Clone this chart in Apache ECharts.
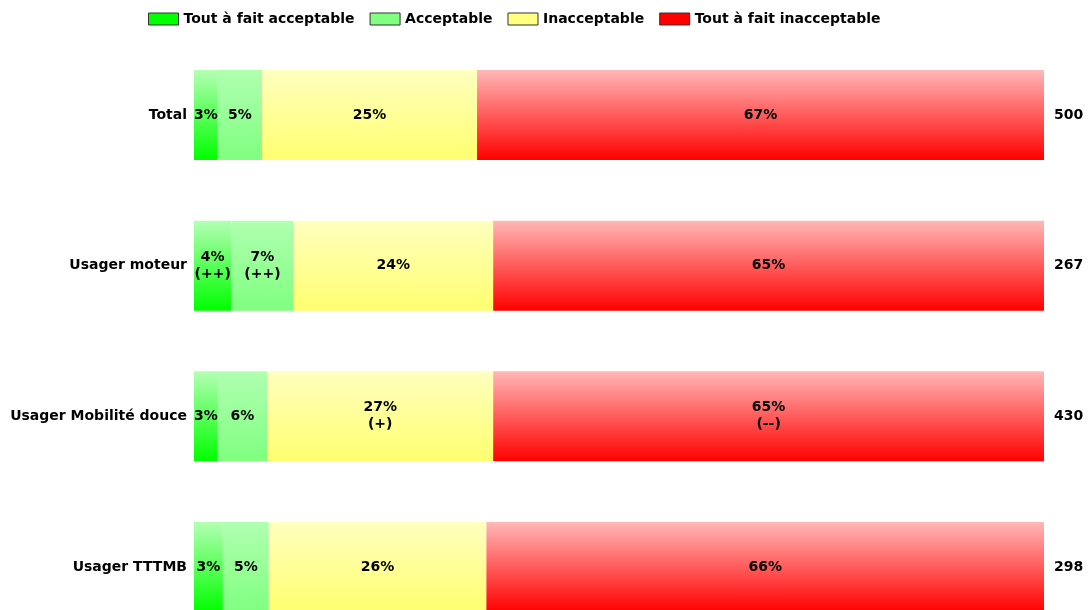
<!DOCTYPE html>
<html><head><meta charset="utf-8">
<script src="https://cdn.jsdelivr.net/npm/echarts@6/dist/echarts.min.js"></script>
<style>html,body{margin:0;padding:0;background:#fff}#c{width:1089px;height:610px}</style>
</head><body><div id="c"></div>
<script>
const categories = ['Total', 'Usager moteur', 'Usager Mobilité douce', 'Usager TTTMB'];
const sampleSizes = ['500', '267', '430', '298'];
const seriesNames = ['Tout à fait acceptable', 'Acceptable', 'Inacceptable', 'Tout à fait inacceptable'];
const toutAFaitAcceptable = [2.8, 4.4, 2.8, 3.4];
const acceptable = [5.2, 7.3, 5.8, 5.4];
const inacceptable = [25.3, 23.5, 26.6, 25.6];
const toutAFaitInacceptable = [66.7, 64.8, 64.8, 65.6];
const sigToutAFaitAcceptable = ['', '(++)', '', ''];
const sigAcceptable = ['', '(++)', '', ''];
const sigInacceptable = ['', '', '(+)', ''];
const sigToutAFaitInacceptable = ['', '', '(--)', ''];

const values = [toutAFaitAcceptable, acceptable, inacceptable, toutAFaitInacceptable];
const sigs = [sigToutAFaitAcceptable, sigAcceptable, sigInacceptable, sigToutAFaitInacceptable];
const solid = ['#00ff00', '#80ff80', '#ffff80', '#ff0000'];
const grads = [['#b4ffb4', '#00ff00'], ['#b0ffb0', '#80ff80'], ['#ffffc0', '#ffff70'], ['#ffb8b8', '#ff0000']];
const FONT = 'DejaVu Sans';

const series = seriesNames.map((name, i) => ({
  name, type: 'bar', stack: 'all', barWidth: 90, clip: false,
  itemStyle: {
    color: new echarts.graphic.LinearGradient(0, 0, 0, 1, [
      {offset: 0, color: grads[i][0]}, {offset: 1, color: grads[i][1]}])
  },
  label: {
    show: true, position: 'inside', color: '#000', fontFamily: FONT, fontWeight: 'bold', fontSize: 14,
    lineHeight: 17,
    formatter: p => {
      const s = sigs[i][p.dataIndex];
      return Math.round(p.value) + '%' + (s ? '\n' + s : '');
    }
  },
  emphasis: {disabled: true},
  data: values[i]
}));

const chart = echarts.init(document.getElementById('c'));
chart.setOption({
  animation: false,
  legend: {
    top: 7, left: 143, itemWidth: 30, itemHeight: 12, itemGap: 15, icon: 'rect',
    textStyle: {fontFamily: FONT, fontWeight: 'bold', fontSize: 14, color: '#000'},
    data: seriesNames.map((n, i) => ({name: n, itemStyle: {color: solid[i], borderColor: '#333', borderWidth: 1}}))
  },
  grid: {left: 194, right: 45, top: 115, bottom: 43, containLabel: false},
  xAxis: {type: 'value', min: 0, max: 100, show: false},
  yAxis: [
    {type: 'category', data: categories, inverse: true, boundaryGap: false,
     axisLine: {show: false}, axisTick: {show: false}, splitLine: {show: false},
     axisLabel: {color: '#000', fontFamily: FONT, fontWeight: 'bold', fontSize: 14, margin: 7}},
    {type: 'category', data: sampleSizes, inverse: true, position: 'right', boundaryGap: false,
     axisLine: {show: false}, axisTick: {show: false}, splitLine: {show: false},
     axisLabel: {color: '#000', fontFamily: FONT, fontWeight: 'bold', fontSize: 14, margin: 10}}
  ],
  series
});
</script></body></html>
